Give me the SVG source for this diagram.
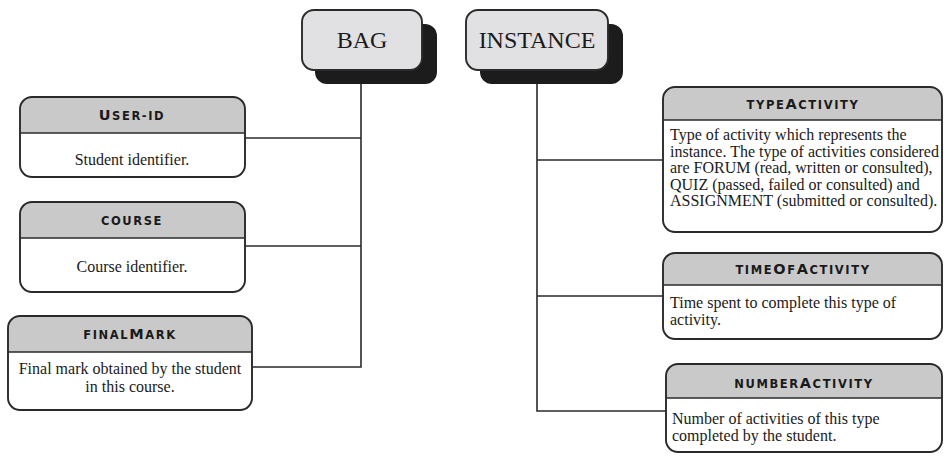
<svg xmlns="http://www.w3.org/2000/svg" width="944" height="456" viewBox="0 0 944 456">
  <style>
    .frame { fill: none; stroke: #2a2a2a; stroke-width: 1.9; }
    .head { fill: #c9c9c9; }
    .rule { stroke: #2a2a2a; stroke-width: 1.5; fill: none; }
    .title { font-family: "DejaVu Sans", "Liberation Sans", sans-serif; font-weight: bold; font-size: 11.5px; letter-spacing: 1.6px; fill: #1a1a1a; text-anchor: middle; }
    .cap { font-size: 14.5px; }
    .body { font-family: "Liberation Serif", "Times New Roman", serif; font-size: 16px; fill: #1a1a1a; }
    .mid { text-anchor: middle; }
    .big { font-family: "Liberation Serif", "Times New Roman", serif; font-size: 24px; fill: #1a1a1a; text-anchor: middle; }
    .top { fill: #e1e1e3; stroke: #2a2a2a; stroke-width: 1.9; }
    .shadow { fill: #1c1c1c; }
    .wire { stroke: #2a2a2a; stroke-width: 1.6; fill: none; }
  </style>

  <!-- connectors -->
  <g id="connectors">
    <path class="wire" d="M361 84 V367 H252"/>
    <path class="wire" d="M245 138 H361"/>
    <path class="wire" d="M245 246 H361"/>
    <path class="wire" d="M537 84 V411 H666"/>
    <path class="wire" d="M537 160 H663"/>
    <path class="wire" d="M537 296 H663"/>
  </g>

  <!-- root: BAG -->
  <g id="bag">
    <rect class="shadow" x="315" y="24" width="122" height="60" rx="12"/>
    <rect class="top" x="302" y="10" width="120" height="60" rx="12"/>
    <text class="big" x="362" y="48">BAG</text>
  </g>

  <!-- root: INSTANCE -->
  <g id="instance">
    <rect class="shadow" x="480" y="24" width="143" height="60" rx="12"/>
    <rect class="top" x="466" y="10" width="142" height="60" rx="12"/>
    <text class="big" x="537" y="48">INSTANCE</text>
  </g>

  <!-- bag attributes -->
  <g id="user-id">
    <path class="head" d="M20 133 V109 Q20 97 32 97 H233 Q245 97 245 109 V133 Z"/>
    <rect class="frame" x="20" y="97" width="225" height="80" rx="12"/>
    <line class="rule" x1="20" y1="133" x2="245" y2="133"/>
    <text class="title" x="132" y="120"><tspan class="cap">U</tspan>SER-ID</text>
    <text class="body mid" x="132" y="165">Student identifier.</text>
  </g>

  <g id="course">
    <path class="head" d="M20 238 V214 Q20 202 32 202 H233 Q245 202 245 214 V238 Z"/>
    <rect class="frame" x="20" y="202" width="225" height="90" rx="12"/>
    <line class="rule" x1="20" y1="238" x2="245" y2="238"/>
    <text class="title" x="132" y="225">COURSE</text>
    <text class="body mid" x="132" y="272">Course identifier.</text>
  </g>

  <g id="finalmark">
    <path class="head" d="M8 352 V328 Q8 316 20 316 H240 Q252 316 252 328 V352 Z"/>
    <rect class="frame" x="8" y="316" width="244" height="94" rx="12"/>
    <line class="rule" x1="8" y1="352" x2="252" y2="352"/>
    <text class="title" x="130" y="339">FINAL<tspan class="cap">M</tspan>ARK</text>
    <text class="body mid" x="130" y="374">Final mark obtained by the student</text>
    <text class="body mid" x="130" y="392">in this course.</text>
  </g>

  <!-- instance attributes -->
  <g id="typeactivity">
    <path class="head" d="M663 120 V99 Q663 87 675 87 H930 Q942 87 942 99 V120 Z"/>
    <rect class="frame" x="663" y="87" width="279" height="145" rx="12"/>
    <line class="rule" x1="663" y1="120" x2="942" y2="120"/>
    <text class="title" x="803" y="109">TYPE<tspan class="cap">A</tspan>CTIVITY</text>
    <text class="body" x="670" y="140">Type of activity which represents the</text>
    <text class="body" x="670" y="156.5">instance. The type of activities considered</text>
    <text class="body" x="670" y="173">are FORUM (read, written or consulted),</text>
    <text class="body" x="670" y="189.5">QUIZ (passed, failed or consulted) and</text>
    <text class="body" x="670" y="206">ASSIGNMENT (submitted or consulted).</text>
  </g>

  <g id="timeofactivity">
    <path class="head" d="M663 285 V265 Q663 253 675 253 H930 Q942 253 942 265 V285 Z"/>
    <rect class="frame" x="663" y="253" width="279" height="86" rx="12"/>
    <line class="rule" x1="663" y1="285" x2="942" y2="285"/>
    <text class="title" x="803" y="274">TIME<tspan class="cap">O</tspan>F<tspan class="cap">A</tspan>CTIVITY</text>
    <text class="body" x="670" y="308">Time spent to complete this type of</text>
    <text class="body" x="670" y="325">activity.</text>
  </g>

  <g id="numberactivity">
    <path class="head" d="M666 398 V376 Q666 364 678 364 H930 Q942 364 942 376 V398 Z"/>
    <rect class="frame" x="666" y="364" width="276" height="88" rx="12"/>
    <line class="rule" x1="666" y1="398" x2="942" y2="398"/>
    <text class="title" x="804" y="388">NUMBER<tspan class="cap">A</tspan>CTIVITY</text>
    <text class="body" x="672" y="424">Number of activities of this type</text>
    <text class="body" x="672" y="441">completed by the student.</text>
  </g>
</svg>
